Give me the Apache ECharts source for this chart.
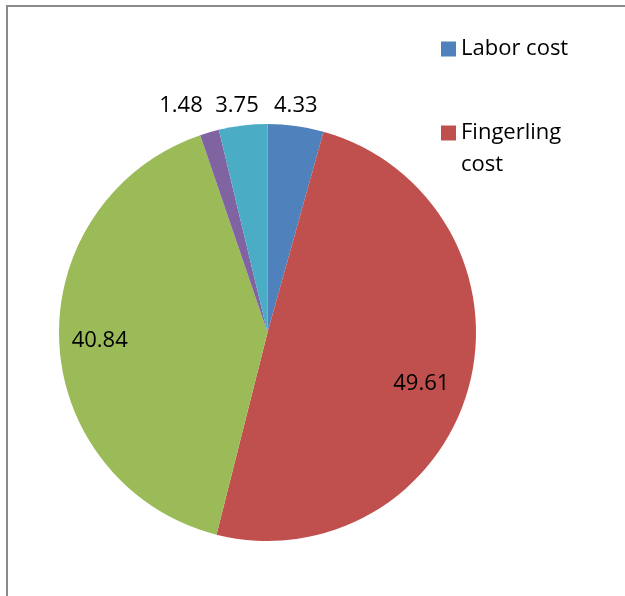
<!DOCTYPE html>
<html>
<head>
<meta charset="utf-8">
<title>Cost structure</title>
<script src="https://cdn.jsdelivr.net/npm/echarts@6/dist/echarts.min.js"></script>
<style>
  html, body { margin: 0; padding: 0; background: #ffffff; overflow: hidden; }
  #chart { position: absolute; left: 0; top: 0; width: 625px; height: 596px; }
  #frame {
    position: absolute; left: 6px; top: 5px; width: 700px; height: 700px;
    border-top: 2px solid #8a8a8a; border-left: 2px solid #8a8a8a;
    box-sizing: border-box; pointer-events: none;
  }
</style>
</head>
<body>
<div id="chart"></div>
<div id="frame"></div>
<script>
// Cost shares (%), clockwise from 12 o'clock
const categories = ['Labor cost', 'Fingerling cost', '', '', ''];
const values = [4.33, 49.61, 40.84, 1.48, 3.75];
const colors = ['#4F81BD', '#C0504D', '#9BBB59', '#8064A2', '#4BACC6'];
const legendItems = ['Labor cost', 'Fingerling cost'];

// Pie geometry in pixels
const CX = 267.5, CY = 332.5, R = 208.5;

// Label placement: distance from centre (px) and a small angular nudge (deg)
const labelDist = [229, 162, 168, 243, 229];
const labelTurn = [-0.7, 3.4, -0.6, -4.7, -0.9];

const total = values.reduce((a, b) => a + b, 0);
const midAngles = [];
let acc = 0;
values.forEach(v => { midAngles.push((acc + v / 2) / total * 360); acc += v; });

const chart = echarts.init(document.getElementById('chart'), null, { renderer: 'canvas' });

const font = '"Open Sans", "Liberation Sans", sans-serif';

chart.setOption({
  animation: false,
  color: colors,
  legend: {
    data: legendItems,
    orient: 'vertical',
    left: 441,
    top: 33,
    padding: 0,
    itemWidth: 15,
    itemHeight: 15,
    itemGap: 20,
    icon: 'rect',
    selectedMode: false,
    formatter: name => name.indexOf(' ') > 0 && name.length > 12
      ? '\n' + name.replace(' ', '\n') : name,
    textStyle: { fontFamily: font, fontSize: 22, color: '#000', lineHeight: 32 }
  },
  series: [{
    type: 'pie',
    center: [CX, CY],
    radius: [0, R],
    startAngle: 90,
    clockwise: true,
    avoidLabelOverlap: false,
    itemStyle: { borderWidth: 0 },
    label: {
      show: true,
      position: 'inside',
      formatter: p => p.value.toFixed(2),
      fontFamily: font,
      fontSize: 22,
      color: '#000'
    },
    labelLine: { show: false },
    labelLayout: params => {
      const i = params.dataIndex;
      const rect = params.labelRect;
      const lx = rect.x + rect.width / 2;
      const ly = rect.y + rect.height / 2;
      const a = (midAngles[i] + labelTurn[i]) * Math.PI / 180;
      const tx = CX + labelDist[i] * Math.sin(a);
      const ty = CY - labelDist[i] * Math.cos(a);
      return { dx: tx - lx, dy: ty - ly };
    },
    data: values.map((v, i) => ({ name: categories[i], value: v }))
  }]
});
</script>
</body>
</html>
